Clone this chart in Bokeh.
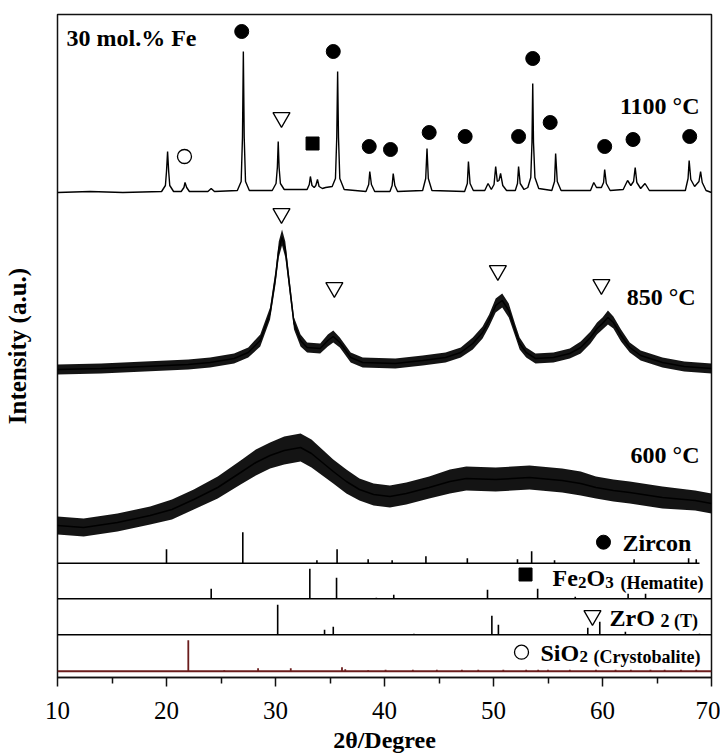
from bokeh.plotting import figure
from bokeh.models import Range1d, Label, FixedTicker
from bokeh.embed import file_html
from bokeh.resources import INLINE

FONT = "Liberation Serif"

# ---------------- data (2theta in degrees, intensity in arbitrary units) ----------------
# 1100 C pattern
x1100 = [10.0, 13.0, 16.0, 19.55, 19.9, 20.0, 20.1, 20.2, 20.3, 20.65, 21.35, 21.6, 21.7, 21.85, 22.1,
         23.8, 24.1, 24.4, 26.5, 26.85, 26.97, 27.05, 27.13, 27.25, 27.6, 29.7, 30.05, 30.17,
         30.25, 30.33, 30.45, 30.8,
         32.9, 33.1, 33.2, 33.35, 33.55, 33.7, 33.85, 34.0, 34.3, 34.6, 35.2, 35.5, 35.62, 35.7,
         35.78, 35.9, 36.3, 38.3, 38.55, 38.65, 38.8, 39.1, 40.5, 40.7, 40.8, 40.95, 41.2, 43.5,
         43.78, 43.9, 44.02, 44.35, 47.35, 47.6, 47.7, 47.85, 48.15, 49.2, 49.5, 49.8, 50.05,
         50.2, 50.35, 50.5, 50.65, 50.85, 51.2, 52.0, 52.2, 52.3, 52.45, 52.8, 53.15, 53.42,
         53.53, 53.6, 53.67, 53.8, 54.15, 55.35, 55.6, 55.7, 55.85, 56.2, 58.9, 59.2, 59.45, 59.9,
         60.1, 60.2, 60.35, 60.7, 61.9, 62.3, 62.6, 62.85, 63.0, 63.15, 63.5, 63.9, 64.3, 67.6,
         67.85, 67.95, 68.1, 68.45, 68.85, 69.0, 69.15, 69.5, 70.0]
y1100 = [485, 486, 485, 486, 492, 506, 526, 506, 492, 486, 486, 490, 495, 490, 486,
         486, 489, 486, 487, 496, 540, 626, 540, 496, 487, 487, 494, 510,
         536, 510, 494, 488,
         488, 493, 501, 492, 490, 492, 498, 491, 489, 490, 491, 499, 540, 606,
         540, 499, 488, 486, 493, 506, 493, 486, 486, 492, 504, 492, 486, 487,
         499, 529, 499, 487, 486, 494, 516, 494, 487, 487, 494, 488, 493,
         511, 496, 497, 504, 492, 487, 487, 494, 511, 494, 488, 490, 500,
         535, 594, 535, 500, 489, 487, 496, 524, 496, 487, 487, 495, 490, 490,
         495, 508, 494, 487, 488, 497, 492, 496, 510, 495, 489, 494, 487, 487,
         499, 517, 498, 491, 496, 506, 495, 487, 485]

# 850 C pattern: centre of the noisy trace and half-width of its noise band
x850 = [10, 14, 18, 20, 22, 24, 26.2, 27.5, 28.6, 29.5, 30.0, 30.3, 30.6, 30.9, 31.2, 31.7,
        32.3, 32.9, 34.1, 34.8, 35.3, 35.9, 36.9, 38.0, 41.0, 43.5, 45.6, 47.0, 48.1, 49.0,
        49.6, 50.2, 50.8, 51.4, 52.0, 52.4, 53.0, 53.85, 55.5, 57.0, 58.0, 58.9, 59.5, 60.0,
        60.5, 61.0, 61.7, 62.5, 63.5, 65.5, 67.5, 70.0]
c850 = [308, 309, 311, 312, 313, 315, 319, 325, 337, 364, 400, 428, 440, 428, 400, 354,
        337, 330, 329, 337, 341, 335, 320, 315, 314, 317, 320, 325, 334, 345,
        357, 372, 377, 367, 347, 334, 325, 319, 320, 324, 330, 340, 349, 354,
        360, 355, 342, 330, 322, 315, 311, 309]
w850 = [5, 5, 5, 5, 5, 5, 5, 5, 6, 6, 7, 8, 8, 8, 7, 6,
        6, 5, 5, 6, 6, 5, 5, 5, 5, 5, 5, 5, 6, 6,
        6, 7, 7, 7, 6, 6, 5, 5, 5, 5, 6, 6, 6, 6,
        7, 6, 6, 5, 5, 5, 5, 5]

# 600 C pattern: centre of the noisy trace and half-width of its noise band
x600 = [10, 12.4, 15.5, 18.5, 20.5, 22.5, 24.7, 26.8, 28.2, 29.5, 30.8, 32.3, 33.3, 34.3,
        35.3, 36.5, 37.7, 39.0, 40.5, 42.0, 44.1, 46.0, 47.5, 50.2, 53.3, 56.3, 58.0, 59.4,
        61.0, 62.5, 65.5, 68.5, 70.0]
c600 = [152, 150, 155, 162, 168, 178, 190, 205, 215, 222, 227, 230, 224, 215,
        206, 196, 188, 183, 181, 184, 190, 196, 199, 198, 200, 197, 194, 190,
        187, 185, 180, 177, 174]
w600 = [9, 9, 9, 9, 10, 10, 11, 12, 13, 13, 14, 14, 14, 13,
        12, 12, 11, 11, 11, 11, 11, 12, 12, 12, 12, 12, 12, 11,
        11, 11, 11, 10, 10]

# phase markers on the patterns
zircon_mx = [26.9, 35.3, 38.6, 40.55, 44.1, 47.4, 52.3, 53.6, 55.2, 60.2, 62.8, 68.0]
zircon_my = [646, 626, 531, 528, 545, 541, 541, 619, 555, 531, 538, 541]
sio2_mx = [21.65]
sio2_my = [521]
zro2_mx = [30.55, 30.55, 35.4, 50.4, 59.9]
zro2_my = [560, 464, 390, 407, 393]
fe2o3_mx = [33.4]
fe2o3_my = [534]

# reference stick patterns (position, relative height)
zircon_pos = [20.0, 27.0, 33.8, 35.65, 38.5, 40.7, 43.8, 47.6, 52.2, 53.5, 55.6, 62.9, 67.9, 68.6]
zircon_h = [14, 31, 3, 14, 4, 3, 7, 5, 4, 12, 3, 4, 5, 4]
fe2o3_pos = [24.1, 33.15, 35.6, 39.25, 40.85, 49.45, 54.05, 57.5, 62.35, 63.95]
fe2o3_h = [10, 30, 21, 1, 4, 9, 10, 2, 5, 5]
zro2_pos = [30.2, 34.5, 35.3, 42.7, 49.85, 50.45, 58.65, 59.75, 62.1, 68.9]
zro2_h = [30, 5, 8, 1, 19, 10, 7, 13, 3, 1]
sio2_pos = [22.0, 25.3, 28.4, 31.4, 36.1, 36.4, 38.5, 40.1, 42.6, 44.8, 47.1, 48.6, 50.9,
            53.0, 54.1, 55.0, 57.0, 59.4, 61.2, 62.6, 64.4, 65.7, 67.2, 68.6]
sio2_h = [31, 1, 3, 3, 4, 2, 1, 1.5, 1.5, 1.5, 1.5, 1.5, 1.5,
          1.5, 1.5, 1.5, 1.5, 1.5, 1.5, 1.5, 1.5, 1.5, 1.5, 1.5]

x_ticks = [10, 20, 30, 40, 50, 60, 70]
x_minor = [15, 25, 35, 45, 55, 65]

# ---------------- figure ----------------
p = figure(width=720, height=756, x_range=Range1d(10, 70), y_range=Range1d(0, 663),
           output_backend="svg", toolbar_location=None,
           min_border_left=57, min_border_right=9, min_border_top=14, min_border_bottom=79)
p.grid.visible = False
p.outline_line_color = "#111111"
p.outline_line_width = 1.5
p.background_fill_color = "white"
p.border_fill_color = "white"

xa = p.xaxis[0]
xa.ticker = FixedTicker(ticks=x_ticks, minor_ticks=x_minor)
xa.axis_line_color = "#111111"
xa.axis_line_width = 1.5
xa.major_tick_in = 0
xa.major_tick_out = 9
xa.minor_tick_in = 0
xa.minor_tick_out = 6
xa.major_tick_line_width = 1.5
xa.minor_tick_line_width = 1.5
xa.major_tick_line_color = "#111111"
xa.minor_tick_line_color = "#111111"
xa.major_label_text_font = FONT
xa.major_label_text_font_size = "25px"
xa.major_label_text_color = "black"
xa.major_label_standoff = 15
xa.axis_label = "2θ/Degree"
xa.axis_label_text_font = FONT
xa.axis_label_text_font_size = "24px"
xa.axis_label_text_font_style = "bold"
xa.axis_label_text_color = "black"
xa.axis_label_standoff = 5

ya = p.yaxis[0]
ya.ticker = FixedTicker(ticks=[])
ya.axis_line_color = None
ya.major_tick_line_color = None
ya.minor_tick_line_color = None
ya.major_label_text_font_size = "0px"
ya.axis_label = "Intensity (a.u.)"
ya.axis_label_text_font = FONT
ya.axis_label_text_font_size = "25px"
ya.axis_label_text_font_style = "bold"
ya.axis_label_text_color = "black"
ya.axis_label_standoff = 27

# patterns
p.varea(x=x600, y1=[c - w for c, w in zip(c600, w600)], y2=[c + w for c, w in zip(c600, w600)],
        fill_color="black", fill_alpha=0.92)
p.line(x600, c600, line_color="black", line_width=1.5)
p.varea(x=x850, y1=[c - w for c, w in zip(c850, w850)], y2=[c + w for c, w in zip(c850, w850)],
        fill_color="black", fill_alpha=0.92)
p.line(x850, c850, line_color="black", line_width=1.5)
p.line(x1100, y1100, line_color="black", line_width=1.4)

# markers
p.scatter(zircon_mx, zircon_my, marker="circle", size=14, fill_color="black", line_color="black")
p.scatter(sio2_mx, sio2_my, marker="circle", size=14, fill_color="white", line_color="black",
          line_width=1.3)
p.scatter(zro2_mx, zro2_my, marker="inverted_triangle", size=17, fill_color="white",
          line_color="black", line_width=1.3)
p.scatter(fe2o3_mx, fe2o3_my, marker="square", size=13, fill_color="black", line_color="black")

# reference stick panels
ZB, FB, TB, SB = 114.3, 78.7, 42.7, 6.3
p.segment(x0=[10], y0=[ZB], x1=[68.9], y1=[ZB], line_color="black", line_width=1.5)
p.segment(x0=[10], y0=[FB], x1=[70], y1=[FB], line_color="black", line_width=1.5)
p.segment(x0=[10], y0=[TB], x1=[70], y1=[TB], line_color="black", line_width=1.5)
p.segment(x0=[10], y0=[SB], x1=[70], y1=[SB], line_color="#6b1d1d", line_width=2)

p.segment(x0=zircon_pos, y0=[ZB] * len(zircon_pos), x1=zircon_pos,
          y1=[ZB + h for h in zircon_h], line_color="black", line_width=1.6)
p.segment(x0=fe2o3_pos, y0=[FB] * len(fe2o3_pos), x1=fe2o3_pos,
          y1=[FB + h for h in fe2o3_h], line_color="black", line_width=1.6)
p.segment(x0=zro2_pos, y0=[TB] * len(zro2_pos), x1=zro2_pos,
          y1=[TB + h for h in zro2_h], line_color="black", line_width=1.6)
p.segment(x0=sio2_pos, y0=[SB] * len(sio2_pos), x1=sio2_pos,
          y1=[SB + h for h in sio2_h], line_color="#6b1d1d", line_width=1.8)

# stick panel legend markers
p.scatter([60.09], [135.3], marker="circle", size=14, fill_color="black", line_color="black")
p.scatter([52.94], [103], marker="square", size=13, fill_color="black", line_color="black")
p.scatter([59.08], [62], marker="inverted_triangle", size=17, fill_color="white",
          line_color="black", line_width=1.3)
p.scatter([52.57], [25.3], marker="circle", size=14, fill_color="white", line_color="black",
          line_width=1.3)

DY = 8  # vertical correction for text placement


def lab(text, x, y, size="24px", align="left", baseline="alphabetic", xo=0):
    p.add_layout(Label(x=x, y=y + DY, text=text, x_offset=xo, text_font=FONT,
                       text_font_size=size, text_font_style="bold", text_color="black",
                       text_align=align, text_baseline=baseline))


lab("30 mol.% Fe", 10.83, 632)
lab("1100 °C", 68.9, 564, align="right")
lab("850 °C", 68.54, 373, align="right")
lab("600 °C", 68.9, 215, align="right")

lab("Zircon", 61.83, 127)
# Fe2O3 (Hematite)
lab("Fe", 55.41, 92)
lab("2", 55.41, 87, size="17px", xo=25.5)
lab("O", 55.41, 92, xo=34)
lab("3", 55.41, 87, size="17px", xo=52.7)
lab("(Hematite)", 55.41, 87, size="18px", xo=68)
# ZrO2 (T)
lab("ZrO", 60.64, 52)
lab("2 (T)", 60.64, 49, size="18px", xo=51)
# SiO2 (Crystobalite)
lab("SiO", 54.31, 17)
lab("2", 54.31, 13, size="17px", xo=39)
lab("(Crystobalite)", 54.31, 13, size="18px", xo=53)

open("out.html", "w").write(file_html(p, INLINE))
